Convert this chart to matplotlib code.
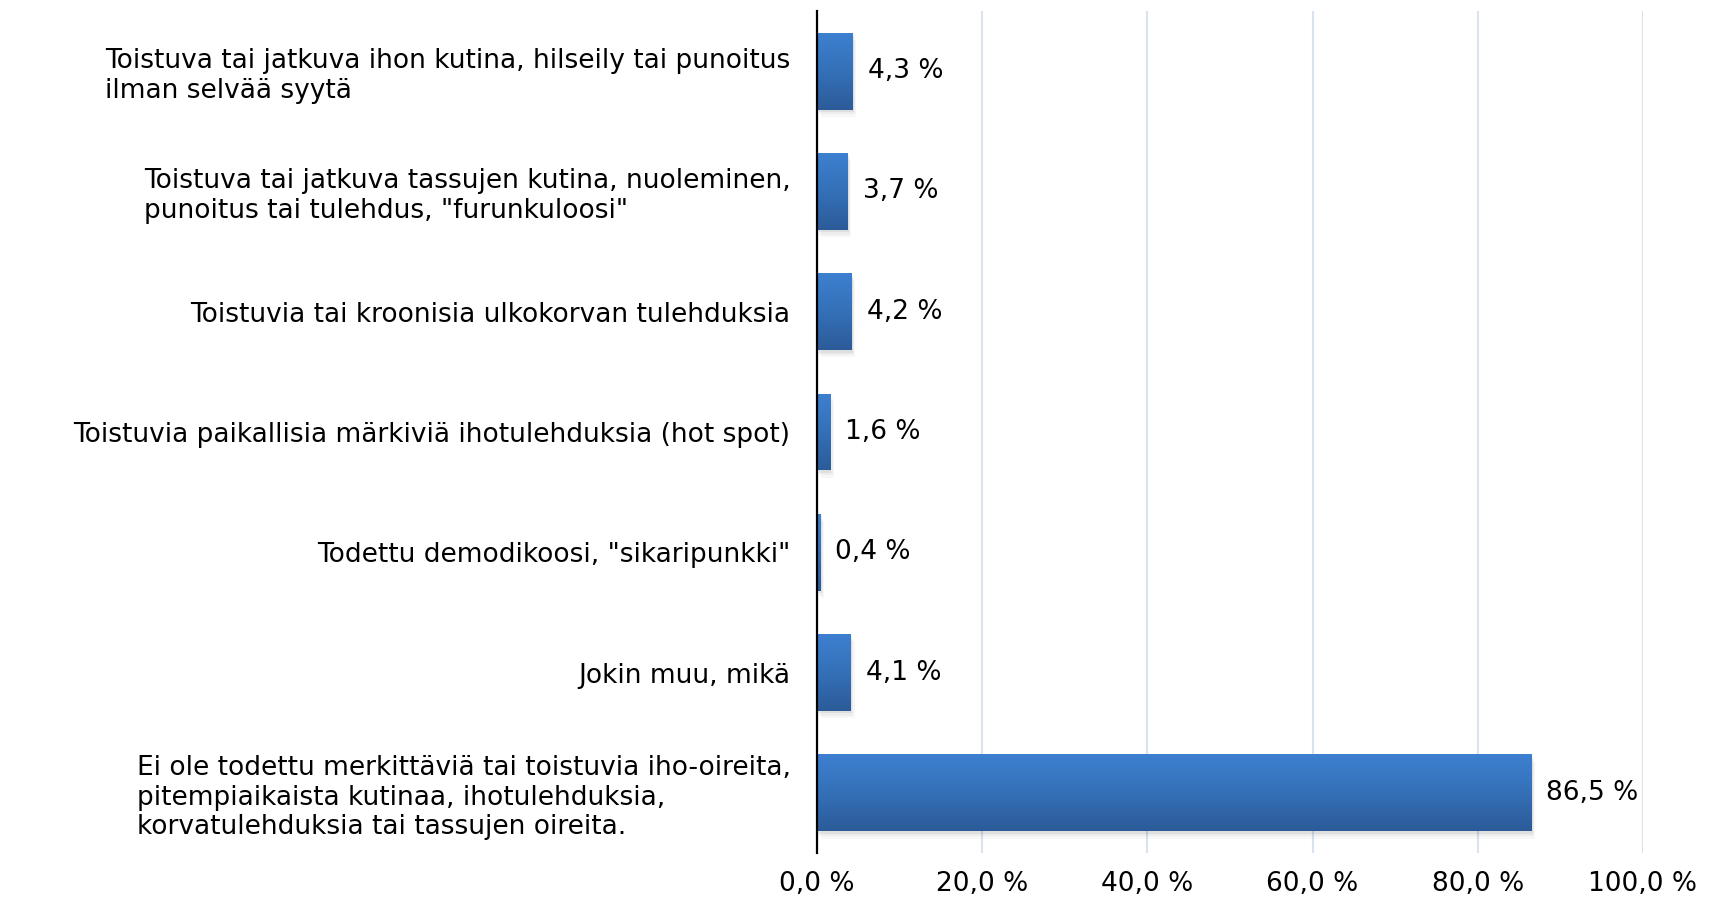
import matplotlib
matplotlib.use("Agg")
import matplotlib.pyplot as plt
import numpy as np
from matplotlib.ticker import FuncFormatter, MultipleLocator
from matplotlib.patches import Rectangle
from matplotlib.colors import LinearSegmentedColormap

categories = [
    "Toistuva tai jatkuva ihon kutina, hilseily tai punoitus\nilman selvää syytä",
    "Toistuva tai jatkuva tassujen kutina, nuoleminen,\npunoitus tai tulehdus, \"furunkuloosi\"",
    "Toistuvia tai kroonisia ulkokorvan tulehduksia",
    "Toistuvia paikallisia märkiviä ihotulehduksia (hot spot)",
    "Todettu demodikoosi, \"sikaripunkki\"",
    "Jokin muu, mikä",
    "Ei ole todettu merkittäviä tai toistuvia iho-oireita,\npitempiaikaista kutinaa, ihotulehduksia,\nkorvatulehduksia tai tassujen oireita.",
]
values = [4.3, 3.7, 4.2, 1.6, 0.4, 4.1, 86.5]

FONT = "DejaVu Sans"
FS = 19
plt.rcParams["font.family"] = [FONT]

W, H = 1715, 899
fig = plt.figure(figsize=(W / 100, H / 100), dpi=100)
ax = fig.add_axes([817 / W, 46 / H, 826 / W, 842 / H])

y = np.arange(len(categories))
bar_h = 0.64
bars = ax.barh(y, values, height=bar_h, color="none", edgecolor="none", zorder=3)

grad = np.linspace(0, 1, 256).reshape(-1, 1)
cmap = LinearSegmentedColormap.from_list("g", ["#3d80d0", "#3470b8", "#2c5b98"])
for b in bars:
    x0, y0, w, h = b.get_x(), b.get_y(), b.get_width(), b.get_height()
    for k, a in enumerate([0.06, 0.04, 0.03]):
        sh = Rectangle((x0 + 0.15 * (k + 1), y0 + 0.02 * (k + 1)), w, h,
                       facecolor="#000000", alpha=a, edgecolor="none", zorder=2)
        ax.add_patch(sh)
    im = ax.imshow(grad, cmap=cmap, aspect="auto", extent=(x0, x0 + w, y0 + h, y0),
                   origin="upper", zorder=3, interpolation="bilinear")
    im.set_clip_path(b)

for yi, v in zip(y, values):
    ax.annotate(f"{v:.1f} %".replace(".", ","), xy=(v, yi), xytext=(15, 0),
                textcoords="offset pixels", va="center", ha="left",
                fontsize=FS, color="#000000", zorder=5)

ax.set_xlim(0, 100)
ax.set_ylim(len(categories) - 0.5, -0.5)
ax.xaxis.set_major_locator(MultipleLocator(20))
ax.xaxis.set_major_formatter(FuncFormatter(lambda v, p: f"{v:.1f} %".replace(".", ",")))
ax.set_yticks(y)
ax.set_yticklabels(categories, fontsize=FS, multialignment="left", linespacing=1.18)
ax.tick_params(axis="y", length=0, pad=19)
ax.tick_params(axis="x", length=0, pad=13, labelsize=FS)

ax.grid(axis="x", color="#d9e3f0", linewidth=1.5, zorder=0)
ax.set_axisbelow(True)
for s in ["top", "right", "bottom"]:
    ax.spines[s].set_visible(False)
ax.spines["left"].set_color("#000000")
ax.spines["left"].set_linewidth(1.6)
ax.spines["left"].set_zorder(6)

fig.savefig("out.png", dpi=100)
